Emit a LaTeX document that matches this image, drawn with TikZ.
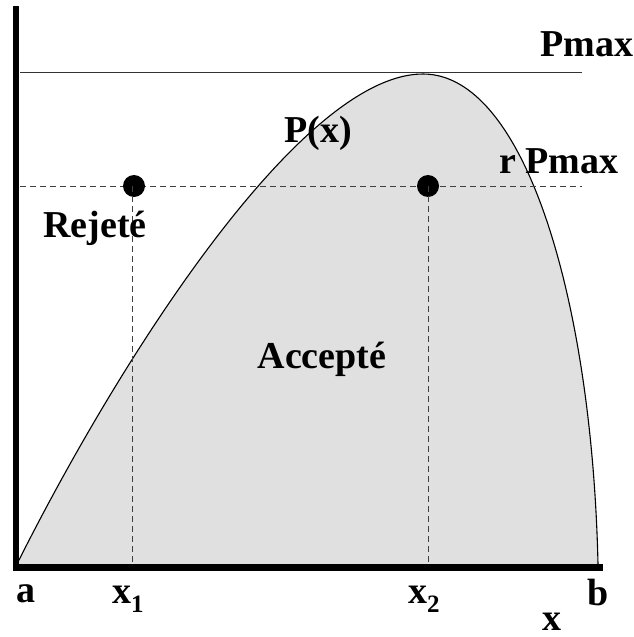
\documentclass[tikz,border=0pt]{standalone}
\usepackage{fontspec}
\setmainfont{Liberation Serif}
\begin{document}
\begin{tikzpicture}[x=1pt,y=-1pt,
  lbl/.style={anchor=base,inner sep=0pt,font=\fontsize{38}{40}\selectfont\bfseries},
  guide/.style={black!75,line width=1pt,dash pattern=on 6pt off 4pt},
  axis/.style={line width=6.5pt},
  dot/.style={circle,fill=black,inner sep=0pt,minimum size=22pt}]
\useasboundingbox (0,0) rectangle (634,637);
% curve end points
\coordinate (ca) at (17,564);
\coordinate (top) at (423,74);
\coordinate (cb) at (598,564);
% area under the curve
\fill[black!12] (ca) .. controls (117,364) and (300,74) .. (top)
  .. controls (525,74) and (592,300) .. (cb) -- cycle;
\draw[line width=1.1pt] (ca) .. controls (117,364) and (300,74) .. (top)
  .. controls (525,74) and (592,300) .. (cb);
% Pmax line
\coordinate (pl) at (20,72);
\coordinate (pr) at (582,72);
\draw[black!80,line width=1pt] (pl) -- (pr);
% r Pmax dashed line
\coordinate (rl) at (20,186);
\coordinate (rr) at (582,186);
\draw[guide] (rl) -- (rr);
% points
\node[dot] (d1) at (134,186) {};
\node[dot] (d2) at (428,186) {};
\coordinate (f1) at (132,564);
\coordinate (f2) at (428,564);
\draw[guide] (d1.center) ++(-2,0) -- (f1);
\draw[guide] (d2.center) -- (f2);
% axes
\coordinate (o) at (16,571);
\coordinate (ytop) at (16,6);
\coordinate (xstart) at (13,567.5);
\coordinate (xend) at (603,567.5);
\draw[axis] (o) -- (ytop);
\draw[axis] (xstart) -- (xend);
% labels
\node[lbl] (pmax) at (587,56) {Pmax};
\node[lbl] (rpmax) at (559,173) {r Pmax};
\node[lbl] (px) at (318,142) {P(x)};
\node[lbl] (rej) at (95,237) {Rejeté};
\node[lbl] (acc) at (322,368) {Accepté};
\node[lbl] (a) at (26,602) {a};
\node[lbl,anchor=base west] (x1) at (112,603) {x\raisebox{-9pt}{\fontsize{25}{25}\selectfont 1}};
\node[lbl,anchor=base west] (x2) at (408,603) {x\raisebox{-9pt}{\fontsize{25}{25}\selectfont 2}};
\node[lbl] (b) at (598,605) {b};
\node[lbl] (x) at (552,630) {x};
\end{tikzpicture}
\end{document}
